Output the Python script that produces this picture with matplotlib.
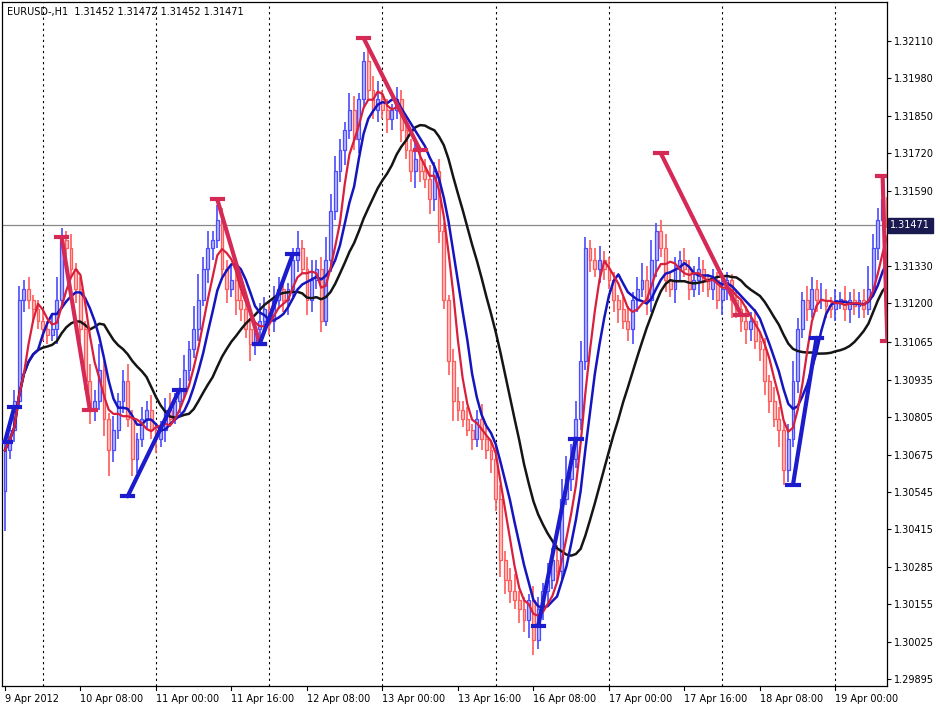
import numpy as np
import matplotlib
matplotlib.use("Agg")
import matplotlib.pyplot as plt
import pandas as pd

# hourly closes EURUSD H1, 9 Apr 16:00 -> 19 Apr
closes = [
    1.3069, 1.3076, 1.3086, 1.3121, 1.3125, 1.3121, 1.3118, 1.3114,
    1.3111, 1.3109, 1.3111, 1.3121, 1.3142, 1.3139, 1.3132, 1.3125,
    1.3111, 1.3093, 1.3083, 1.3086, 1.3097, 1.3080, 1.3069, 1.3076,
    1.3086, 1.3093, 1.3080, 1.3066, 1.3073, 1.3080, 1.3083, 1.3076,
    1.3073, 1.3076, 1.3083, 1.3080, 1.3086, 1.3090, 1.3097, 1.3104,
    1.3111, 1.3121, 1.3132, 1.3139, 1.3142, 1.3149, 1.3132, 1.3125,
    1.3128, 1.3121, 1.3118, 1.3111, 1.3106, 1.3111, 1.3114, 1.3118,
    1.3114, 1.3121, 1.3125, 1.3121, 1.3125, 1.3135, 1.3139, 1.3132,
    1.3121, 1.3128, 1.3132, 1.3114, 1.3135, 1.3152, 1.3166, 1.3173,
    1.3180, 1.3187, 1.3177, 1.3191, 1.3204, 1.3194, 1.3187, 1.3191,
    1.3187, 1.3184, 1.3187, 1.3191, 1.3180, 1.3173, 1.3166, 1.3170,
    1.3166, 1.3163, 1.3156, 1.3166, 1.3145, 1.3121, 1.3100, 1.3086,
    1.3083, 1.3080, 1.3076, 1.3073, 1.3080, 1.3073, 1.3069, 1.3066,
    1.3052, 1.3031, 1.3024, 1.3020, 1.3017, 1.3014, 1.3010, 1.3017,
    1.3003, 1.3014, 1.3020, 1.3024, 1.3031, 1.3027, 1.3052, 1.3059,
    1.3066, 1.3080, 1.3100, 1.3139, 1.3135, 1.3132, 1.3135, 1.3132,
    1.3128, 1.3121, 1.3118, 1.3114, 1.3111, 1.3121, 1.3125, 1.3128,
    1.3121, 1.3135, 1.3145, 1.3139, 1.3128, 1.3125, 1.3132, 1.3135,
    1.3132, 1.3125, 1.3128, 1.3132, 1.3128, 1.3125, 1.3128, 1.3121,
    1.3125, 1.3128, 1.3121, 1.3118, 1.3114, 1.3111, 1.3114, 1.3107,
    1.3104, 1.3093, 1.3086, 1.3080, 1.3076, 1.3062, 1.3073, 1.3093,
    1.3111, 1.3121, 1.3118, 1.3125, 1.3121, 1.3121, 1.3119, 1.3118,
    1.3121, 1.3121, 1.3118, 1.3121, 1.3119, 1.3121, 1.3118, 1.3125,
    1.3139, 1.3149, 1.3156, 1.31471,
]
first_open = 1.3055

# wick extensions in points (0.0001)
wick_hi = [
    3, 2, 4, 5, 3, 4, 2, 3, 4, 3, 5, 8, 4, 3, 5, 2,
    4, 3, 6, 4, 9, 3, 2, 5, 3, 4, 6, 3, 2, 4, 3, 5,
    2, 3, 4, 6, 3, 4, 5, 3, 8, 9, 4, 6, 3, 5, 4, 3,
    5, 4, 3, 2, 4, 3, 6, 4, 3, 5, 4, 3, 2, 4, 6, 3,
    4, 7, 3, 4, 8, 6, 5, 4, 3, 6, 5, 2, 3, 4, 5, 6,
    3, 4, 2, 4, 3, 5, 4, 6, 3, 4, 5, 3, 4, 3, 2, 4,
    5, 3, 4, 2, 3, 5, 4, 3, 4, 5, 3, 4, 6, 3, 4, 2,
    5, 4, 3, 6, 4, 5, 7, 8, 5, 6, 7, 4, 3, 4, 5, 3,
    4, 3, 2, 4, 5, 3, 4, 6, 5, 7, 3, 4, 5, 3, 4, 3,
    4, 3, 5, 4, 3, 2, 4, 3, 4, 3, 2, 4, 3, 5, 3, 4,
    3, 4, 2, 5, 4, 3, 5, 7, 4, 3, 5, 4, 3, 6, 4, 3,
    4, 3, 5, 3, 4, 3, 4, 8, 5, 4, 3, 1,
]
wick_lo = [
    14, 3, 4, 2, 4, 3, 5, 3, 4, 3, 2, 5, 3, 4, 3, 5,
    4, 3, 5, 4, 3, 6, 9, 4, 3, 4, 3, 6, 5, 3, 4, 3,
    5, 3, 4, 3, 2, 4, 3, 4, 3, 4, 2, 5, 4, 3, 4, 5,
    3, 5, 4, 3, 6, 4, 3, 2, 5, 4, 3, 4, 5, 3, 4, 2,
    5, 4, 3, 4, 2, 4, 3, 4, 5, 3, 4, 5, 3, 4, 3, 4,
    3, 5, 4, 3, 4, 3, 4, 6, 4, 3, 5, 4, 4, 3, 5, 7,
    4, 3, 2, 4, 3, 4, 3, 5, 4, 6, 5, 4, 3, 5, 4, 6,
    5, 3, 4, 5, 3, 4, 3, 2, 4, 3, 4, 3, 4, 3, 5, 4,
    3, 4, 5, 3, 4, 5, 4, 3, 5, 4, 6, 3, 4, 3, 5, 4,
    3, 4, 3, 5, 4, 3, 4, 3, 5, 4, 6, 3, 4, 5, 4, 3,
    4, 5, 4, 3, 6, 5, 4, 3, 4, 3, 4, 3, 4, 3, 4, 3,
    4, 3, 4, 5, 3, 4, 3, 2, 3, 4, 3, 1,
]

# zigzag swings (bar_from, price_from, bar_to, price_to)
zz_down = [(12, 1.3143, 18, 1.3083), (45, 1.3156, 54, 1.3106),
           (76, 1.3212, 88, 1.3173), (139, 1.3172, 156, 1.3116),
           (186, 1.3164, 187, 1.3107)]
zz_up = [(0, 1.3072, 2, 1.3084), (26, 1.3053, 37, 1.3090),
         (54, 1.3106, 61, 1.3137), (113, 1.3008, 121, 1.3073),
         (167, 1.3057, 172, 1.3108)]

ytick_vals = [1.32110, 1.31980, 1.31850, 1.31720, 1.31590, 1.31330, 1.31200,
              1.31065, 1.30935, 1.30805, 1.30675, 1.30545, 1.30415, 1.30285,
              1.30155, 1.30025, 1.29895]
date_labels = ["9 Apr 2012", "10 Apr 08:00", "11 Apr 00:00", "11 Apr 16:00",
               "12 Apr 08:00", "13 Apr 00:00", "13 Apr 16:00", "16 Apr 08:00",
               "17 Apr 00:00", "17 Apr 16:00", "18 Apr 08:00", "19 Apr 00:00"]
day_lines = [8, 32, 56, 80, 104, 128, 152, 176]
last_price = 1.31471

c = np.array(closes)
o = np.concatenate([[first_open], c[:-1]])
hi = np.maximum(o, c) + np.array(wick_hi) * 1e-4
lo = np.minimum(o, c) - np.array(wick_lo) * 1e-4
idx = np.arange(len(c))

s = pd.Series(c)
ma_fast = s.rolling(5, min_periods=1).mean()
ma_mid = s.rolling(8, min_periods=1).mean()
ma_slow = s.rolling(19, min_periods=1).mean()

fig = plt.figure(figsize=(9.4, 7.06), dpi=100)
ax = fig.add_axes([0.002, 20 / 706, 885 / 940, 684 / 706])

for x in day_lines:
    ax.axvline(x, color="black", lw=0.8, ls=(0, (2, 3)), zorder=1)
ax.axhline(last_price, color="#888888", lw=0.9, zorder=1)

for i in idx:
    up = c[i] >= o[i]
    edge = "#4a4aff" if up else "#ff5a5a"
    face = "#b8b8ff" if up else "#ffc0c0"
    ax.vlines(i, lo[i], hi[i], color=edge, lw=1.2, zorder=2)
    b0, b1 = min(o[i], c[i]), max(o[i], c[i])
    ax.add_patch(plt.Rectangle((i - 0.3, b0), 0.6, max(b1 - b0, 0.00003),
                               facecolor=face, edgecolor=edge, lw=0.9, zorder=3))

ax.plot(idx, ma_slow, color="#151515", lw=1.8, zorder=4)
ax.plot(idx, ma_mid, color="#1515c0", lw=1.8, zorder=5)
ax.plot(idx, ma_fast, color="#d8203c", lw=1.6, zorder=5)

for swings, col in ((zz_down, "#d42a55"), (zz_up, "#1c1ccc")):
    for b0, p0, b1, p1 in swings:
        ax.plot([b0, b1], [p0, p1], color=col, lw=3, zorder=6, solid_capstyle="round")
        for b, p in ((b0, p0), (b1, p1)):
            ax.plot([b - 1.2, b + 1.2], [p, p], color=col, lw=3, zorder=6)

ax.set_xlim(-0.65, 186.9)
ax.set_ylim(1.29872, 1.32245)
ax.set_xticks([])
ax.yaxis.tick_right()
ax.set_yticks(ytick_vals)
ax.set_yticklabels(["%.5f" % v for v in ytick_vals], fontsize=7)
ax.tick_params(axis="y", length=3, width=0.8, pad=2)
for sp in ax.spines.values():
    sp.set_linewidth(0.9)

for k, lab in enumerate(date_labels):
    ax.text(16 * k, -0.012, lab, transform=ax.get_xaxis_transform(),
            ha="left", va="top", fontsize=7)
    ax.plot([16 * k, 16 * k], [0, -0.006], transform=ax.get_xaxis_transform(),
            color="black", lw=0.8, clip_on=False)

ax.text(1.004, last_price, "%.5f" % last_price, transform=ax.get_yaxis_transform(),
        ha="left", va="center", fontsize=7, color="white",
        bbox=dict(boxstyle="square,pad=0.25", fc="#1a1a50", ec="#1a1a50"))

ax.text(0.006, 0.993, "EURUSD-,H1  1.31452 1.31472 1.31452 1.31471",
        transform=ax.transAxes, ha="left", va="top", fontsize=7)

fig.savefig("out.png", dpi=100)
